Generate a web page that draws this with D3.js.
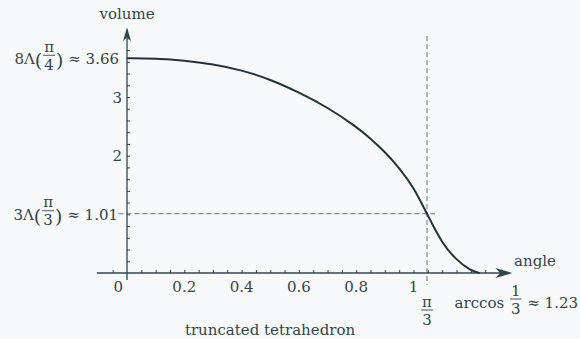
<!DOCTYPE html>
<html>
<head>
<meta charset="utf-8">
<script src="https://cdn.jsdelivr.net/npm/d3@7"></script>
<style>
  html, body { margin: 0; padding: 0; background: #f8f9fa; }
  svg { display: block; }
  text { font-family: "DejaVu Serif", "Liberation Serif", serif; font-size: 15px; fill: #34444c; white-space: pre; }
</style>
</head>
<body>
<div id="chart"></div>
<script>
// curve
const angleVals = [0, 0.1, 0.2, 0.3, 0.4, 0.5, 0.6, 0.7, 0.8, 0.85, 0.9, 0.95, 1.0, 1.047, 1.1, 1.15, 1.2, 1.231];
const volumeVals = [3.66, 3.655, 3.625, 3.56, 3.46, 3.30, 3.08, 2.825, 2.495, 2.295, 2.065, 1.795, 1.465, 1.01, 0.50, 0.22, 0.04, 0];

const xTickLabels = [0, 0.2, 0.4, 0.6, 0.8, 1];
const yTickLabels = [2, 3];
const piThird = 1.0472;
const levelAtPiThird = 1.01;
const levelAtZero = 3.66;

const WIDTH = 580;
const HEIGHT = 339;
const INK = '#34444c';

const x = d3.scaleLinear().domain([0, 1]).range([127, 413.5]);
const y = d3.scaleLinear().domain([0, 3]).range([273, 97]);

const svg = d3.select('#chart').append('svg')
    .attr('width', WIDTH)
    .attr('height', HEIGHT);

/**
 * Lay out a run of text pieces and stacked fractions on one baseline.
 */
function mathLabel(parts, anchor, ax, baseline) {
  const g = svg.append('g');
  let cursor = 0;
  parts.forEach((p) => {
    if (typeof p === 'string') {
      const t = g.append('text').attr('x', cursor).attr('y', 0).text(p);
      cursor += t.node().getComputedTextLength();
    } else if (p.paren) {
      const t = g.append('text').attr('x', cursor).attr('y', 3)
          .style('font-size', '19px').text(p.paren);
      cursor += t.node().getComputedTextLength();
    } else {
      const num = g.append('text').attr('text-anchor', 'middle').text(p.num);
      const den = g.append('text').attr('text-anchor', 'middle').text(p.den);
      const w = Math.max(num.node().getComputedTextLength(),
                         den.node().getComputedTextLength()) + 4;
      const bar = -p.rise;
      num.attr('x', cursor + w / 2).attr('y', bar - 3.5);
      den.attr('x', cursor + w / 2).attr('y', bar + 14.5);
      g.append('line')
          .attr('x1', cursor + 1).attr('x2', cursor + w - 1)
          .attr('y1', bar).attr('y2', bar)
          .attr('stroke', INK).attr('stroke-width', 0.9);
      cursor += w;
    }
  });
  const shift = anchor === 'end' ? ax - cursor :
      anchor === 'middle' ? ax - cursor / 2 : ax;
  g.attr('transform', 'translate(' + shift + ',' + baseline + ')');
}

// dashed guides
svg.append('line')
    .attr('x1', x(piThird)).attr('x2', x(piThird))
    .attr('y1', y(4.04)).attr('y2', y(-0.2))
    .attr('stroke', '#66747c').attr('stroke-width', 1)
    .attr('stroke-dasharray', '5,3');
svg.append('line')
    .attr('x1', x(-0.03)).attr('x2', x(1.075))
    .attr('y1', y(levelAtPiThird)).attr('y2', y(levelAtPiThird))
    .attr('stroke', '#66747c').attr('stroke-width', 1)
    .attr('stroke-dasharray', '5,3');

// x axis: ticks point up, labels below
const xMinor = d3.range(-1, 27).map((i) => i * 0.05).filter((v) => Math.abs(v) > 1e-9);
const xAxis = d3.axisBottom(x)
    .tickValues(xMinor)
    .tickSizeInner(-3)
    .tickSizeOuter(0)
    .tickFormat('');
svg.append('g')
    .attr('transform', 'translate(0,' + y(0) + ')')
    .call(xAxis)
    .call((g) => g.select('.domain').remove())
    .call((g) => g.selectAll('line').attr('stroke', INK).attr('stroke-width', 1));

svg.append('g').selectAll('text')
    .data(xTickLabels)
    .enter()
    .append('text')
    .attr('x', (d) => d === 0 ? x(d) - 4 : x(d))
    .attr('y', y(0) + 19)
    .attr('text-anchor', (d) => d === 0 ? 'end' : 'middle')
    .text((d) => d);

// y axis: ticks point right
const yMinor = d3.range(1, 21).map((i) => i * 0.2);
const yAxis = d3.axisLeft(y)
    .tickValues(yMinor)
    .tickSizeInner(-3)
    .tickSizeOuter(0)
    .tickFormat('');
svg.append('g')
    .attr('transform', 'translate(' + x(0) + ',0)')
    .call(yAxis)
    .call((g) => g.select('.domain').remove())
    .call((g) => g.selectAll('line').attr('stroke', INK).attr('stroke-width', 1));

svg.append('g').selectAll('text')
    .data(yTickLabels)
    .enter()
    .append('text')
    .attr('x', x(0) - 5)
    .attr('y', (d) => y(d) + 5.5)
    .attr('text-anchor', 'end')
    .text((d) => d);

// axis lines with arrow heads
svg.append('line')
    .attr('x1', x(-0.105)).attr('x2', x(1.32))
    .attr('y1', y(0)).attr('y2', y(0))
    .attr('stroke', INK).attr('stroke-width', 1.3);
svg.append('line')
    .attr('x1', x(0)).attr('x2', x(0))
    .attr('y1', y(-0.12)).attr('y2', y(4.05))
    .attr('stroke', INK).attr('stroke-width', 1.3);

const xTip = [x(1.345), y(0)];
svg.append('path')
    .attr('d', 'M' + xTip[0] + ',' + xTip[1] +
        ' L' + (xTip[0] - 17) + ',' + (xTip[1] - 5) +
        ' L' + (xTip[0] - 12) + ',' + xTip[1] +
        ' L' + (xTip[0] - 17) + ',' + (xTip[1] + 5) + ' Z')
    .attr('fill', INK);
const yTip = [x(0), y(4.19)];
svg.append('path')
    .attr('d', 'M' + yTip[0] + ',' + yTip[1] +
        ' L' + (yTip[0] - 4) + ',' + (yTip[1] + 14) +
        ' L' + yTip[0] + ',' + (yTip[1] + 10) +
        ' L' + (yTip[0] + 4) + ',' + (yTip[1] + 14) + ' Z')
    .attr('fill', INK);

// the curve
const line = d3.line()
    .x((d, i) => x(angleVals[i]))
    .y((d) => y(d))
    .curve(d3.curveBasis);
svg.append('path')
    .datum(volumeVals)
    .attr('d', line)
    .attr('fill', 'none')
    .attr('stroke', '#263238')
    .attr('stroke-width', 2);

// special tick labels
mathLabel(['8Λ', {paren: '('}, {num: 'π', den: '4', rise: 9}, {paren: ')'}, ' ≈ 3.66'],
    'end', 119, y(levelAtZero) + 6);
mathLabel(['3Λ', {paren: '('}, {num: 'π', den: '3', rise: 9}, {paren: ')'}, ' ≈ 1.01'],
    'end', 118, y(levelAtPiThird) + 6);
mathLabel([{num: 'π', den: '3', rise: -37}], 'middle', x(piThird), y(0));
mathLabel(['arccos ', {num: '1', den: '3', rise: 9}, ' ≈ 1.23'], 'end', 578, 308);

// axis titles and caption
svg.append('text').attr('x', x(0)).attr('y', 19).attr('text-anchor', 'middle').text('volume');
svg.append('text').attr('x', 535).attr('y', 266).attr('text-anchor', 'middle').text('angle');
svg.append('text').attr('x', 270).attr('y', 335).attr('text-anchor', 'middle')
    .text('truncated tetrahedron');
</script>
</body>
</html>
